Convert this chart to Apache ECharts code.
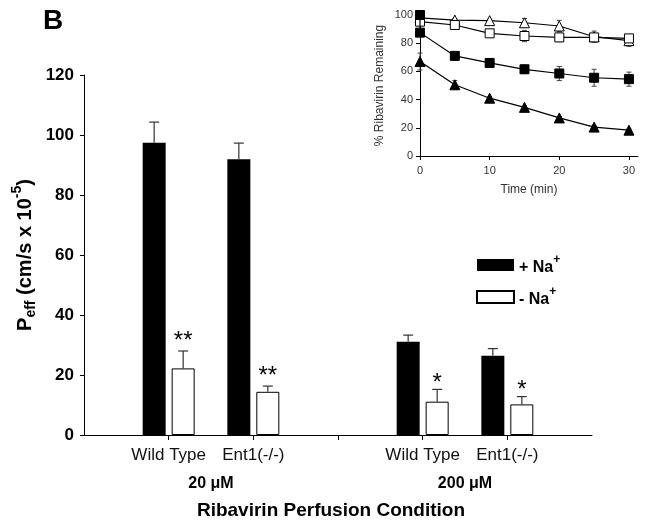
<!DOCTYPE html>
<html><head><meta charset="utf-8">
<script src="https://cdn.jsdelivr.net/npm/echarts@6/dist/echarts.min.js"></script>
<style>html,body{margin:0;padding:0;background:#fff}#c{width:649px;height:522px}</style>
</head><body><div id="c"></div>
<script>
// ---- main bar chart data ----
const categories = ['', 'Wild Type', 'Ent1(-/-)', '', 'Wild Type', 'Ent1(-/-)', ''];
const groupLabels = ['20 \u03bcM', '200 \u03bcM'];
const groupMembers = [[1, 2], [4, 5]];
const plusNa = [null, 97.4, 91.9, null, 31.1, 26.4, null];
const plusNaErr = [null, 6.9, 5.4, null, 2.2, 2.4, null];
const minusNa = [null, 22.2, 14.4, null, 11.1, 10.2, null];
const minusNaErr = [null, 5.8, 1.9, null, 4.1, 2.6, null];
const minusNaSig = ['', '**', '**', '', '*', '*', ''];
const yTicks = [0, 20, 40, 60, 80, 100, 120];

// ---- inset data ----
const openTriTime = [0, 5, 10, 15, 20, 25, 30];
const openTri = [98, 96.4, 96, 94.5, 92.2, 84.6, 81.8];
const openTriErr = [0, 1, 1, 3, 4, 4, 4];
const openSqTime = [0, 5, 10, 15, 20, 25, 30];
const openSq = [95.3, 92.9, 87, 85.1, 84.1, 84.1, 83.4];
const openSqErr = [0, 1, 1, 4, 3, 1, 2];
const filledSqTime = [0, 0, 5, 10, 15, 20, 25, 30];
const filledSq = [100, 87.5, 71, 66, 61.5, 58.5, 55.5, 54.5];
const filledSqErr = [0, 0, 1, 1, 3, 5, 6, 5];
const filledTriTime = [0, 5, 10, 15, 20, 25, 30];
const filledTri = [67, 50.5, 41, 34.5, 27, 20.5, 18.3];
const filledTriErr = [6, 3, 1, 1, 1, 1, 1];
const insetXTicks = [0, 10, 20, 30];

const FONT = 'Liberation Sans, Arial, sans-serif';
const chart = echarts.init(document.getElementById('c'), null, {renderer: 'canvas'});

function rows(vals, errs, sigs) {
  const out = [];
  vals.forEach((v, i) => { if (v != null) out.push([i, v, errs[i], sigs ? sigs[i] : '']); });
  return out;
}
function pairs(ts, vs, es) { return ts.map((t, i) => [t, vs[i], es ? es[i] : 0]); }

const BAR_W = 23, BAR_OFF = 14.5;
function barErr(offset) {
  return function (params, api) {
    const base = api.coord([api.value(0), api.value(1)]);
    const top = api.coord([api.value(0), api.value(1) + api.value(2)]);
    const x = base[0] + offset;
    const children = [
      {type: 'line', shape: {x1: x, y1: base[1], x2: x, y2: top[1]}, style: {stroke: '#333', lineWidth: 1.2}},
      {type: 'line', shape: {x1: x - 5, y1: top[1], x2: x + 5, y2: top[1]}, style: {stroke: '#333', lineWidth: 1.2}}
    ];
    const sig = api.value(3);
    if (sig) children.push({type: 'text', style: {text: sig, x: x, y: top[1] - (sig.length > 1 ? 10 : 6),
      align: 'center', verticalAlign: 'middle', font: '24px ' + FONT, fill: '#000'}});
    return {type: 'group', children};
  };
}
function insetErr(params, api) {
  const e = api.value(2);
  if (!e) return null;
  const hi = api.coord([api.value(0), api.value(1) + e]);
  const lo = api.coord([api.value(0), api.value(1) - e]);
  return {type: 'group', children: [
    {type: 'line', shape: {x1: hi[0], y1: hi[1], x2: lo[0], y2: lo[1]}, style: {stroke: '#444', lineWidth: 1}},
    {type: 'line', shape: {x1: hi[0] - 2.5, y1: hi[1], x2: hi[0] + 2.5, y2: hi[1]}, style: {stroke: '#444', lineWidth: 1}},
    {type: 'line', shape: {x1: lo[0] - 2.5, y1: lo[1], x2: lo[0] + 2.5, y2: lo[1]}, style: {stroke: '#444', lineWidth: 1}}
  ]};
}

const option = {
  animation: false,
  backgroundColor: '#fff',
  textStyle: {fontFamily: FONT},
  title: {text: 'B', left: 38, top: 2, textStyle: {fontSize: 28, fontWeight: 'bold', color: '#000', fontFamily: FONT}},
  legend: {
    orient: 'vertical', left: 471, top: 249, itemWidth: 37, itemHeight: 12, itemGap: 10,
    icon: 'rect', data: ['+Na', '-Na'],
    formatter: n => n === '+Na' ? '{t|+ Na}{s|+}' : '{t|- Na}{s|+}',
    textStyle: {rich: {
      t: {fontSize: 16, fontWeight: 'bold', color: '#000', fontFamily: FONT, lineHeight: 22, verticalAlign: 'bottom'},
      s: {fontSize: 12, fontWeight: 'bold', color: '#000', fontFamily: FONT, lineHeight: 12, verticalAlign: 'top'}
    }}
  },
  grid: [
    {left: 84, right: 57, top: 75, bottom: 87, outerBoundsMode: 'none'},
    {left: 420, top: 15, width: 218, height: 141, outerBoundsMode: 'none'}
  ],
  xAxis: [
    {
      gridIndex: 0, type: 'category', data: categories, boundaryGap: false,
      axisLine: {lineStyle: {color: '#000', width: 1}},
      axisTick: {interval: (i) => i >= 1 && i <= 5, length: 5, lineStyle: {color: '#000'}},
      axisLabel: {interval: 0, fontSize: 17, color: '#111', margin: 12, fontFamily: FONT},
      splitLine: {show: false},
      name: 'Ribavirin Perfusion Condition', nameLocation: 'middle', nameGap: 66,
      nameTextStyle: {fontSize: 19, fontWeight: 'bold', color: '#000', fontFamily: FONT, padding: [0, 14, 0, 0]}
    },
    {
      gridIndex: 1, type: 'value', min: 0, max: 31.3, interval: 10,
      axisLine: {lineStyle: {color: '#000', width: 1}},
      axisTick: {customValues: insetXTicks, length: 4, lineStyle: {color: '#000'}},
      axisLabel: {customValues: insetXTicks, fontSize: 11, color: '#333', margin: 9, fontFamily: FONT},
      splitLine: {show: false},
      name: 'Time (min)', nameLocation: 'middle', nameGap: 28,
      nameTextStyle: {fontSize: 12, color: '#333', fontFamily: FONT}
    }
  ],
  yAxis: [
    {
      gridIndex: 0, type: 'value', min: 0, max: 120, interval: 20,
      axisLine: {show: true, lineStyle: {color: '#000', width: 1}},
      axisTick: {show: true, length: 4, lineStyle: {color: '#000'}},
      axisLabel: {fontSize: 17, fontWeight: 'bold', color: '#000', margin: 10, fontFamily: FONT,
        formatter: v => yTicks.includes(v) ? String(v) : ''},
      splitLine: {show: false},
      name: '{m|P}{b|eff}{m| (cm/s x 10}{p|-5}{m|)}', nameLocation: 'middle', nameGap: 44, nameMoveOverlap: false,
      nameTextStyle: {rich: {
        m: {fontSize: 20, fontWeight: 'bold', color: '#000', fontFamily: FONT, lineHeight: 30, verticalAlign: 'middle'},
        b: {fontSize: 14, fontWeight: 'bold', color: '#000', fontFamily: FONT, lineHeight: 14, verticalAlign: 'bottom', padding: [0, 0, 2, 0]},
        p: {fontSize: 14, fontWeight: 'bold', color: '#000', fontFamily: FONT, lineHeight: 14, verticalAlign: 'top'}
      }}
    },
    {
      gridIndex: 1, type: 'value', min: 0, max: 100, interval: 20,
      axisLine: {show: true, lineStyle: {color: '#000', width: 1}},
      axisTick: {show: true, length: 4, lineStyle: {color: '#000'}},
      axisLabel: {fontSize: 11, color: '#333', margin: 7, fontFamily: FONT},
      splitLine: {show: false},
      name: '% Ribavirin Remaining', nameLocation: 'middle', nameGap: 34,
      nameTextStyle: {fontSize: 12, color: '#333', fontFamily: FONT}
    }
  ],
  series: [
    {name: '+Na', type: 'bar', xAxisIndex: 0, yAxisIndex: 0, data: plusNa, barWidth: BAR_W, barGap: '26%',
      itemStyle: {color: '#000'}},
    {name: '-Na', type: 'bar', xAxisIndex: 0, yAxisIndex: 0, data: minusNa, barWidth: BAR_W, barGap: '26%',
      itemStyle: {color: '#fff', borderColor: '#000', borderWidth: 1}},
    {type: 'custom', xAxisIndex: 0, yAxisIndex: 0, data: rows(plusNa, plusNaErr), renderItem: barErr(-BAR_OFF), z: 3},
    {type: 'custom', xAxisIndex: 0, yAxisIndex: 0, data: rows(minusNa, minusNaErr, minusNaSig), renderItem: barErr(BAR_OFF), z: 3},

    {type: 'custom', xAxisIndex: 1, yAxisIndex: 1, data: pairs(openTriTime, openTri, openTriErr), renderItem: insetErr, z: 1},
    {type: 'custom', xAxisIndex: 1, yAxisIndex: 1, data: pairs(openSqTime, openSq, openSqErr), renderItem: insetErr, z: 1},
    {type: 'custom', xAxisIndex: 1, yAxisIndex: 1, data: pairs(filledSqTime, filledSq, filledSqErr), renderItem: insetErr, z: 1},
    {type: 'custom', xAxisIndex: 1, yAxisIndex: 1, data: pairs(filledTriTime, filledTri, filledTriErr), renderItem: insetErr, z: 1},

    {type: 'line', xAxisIndex: 1, yAxisIndex: 1, data: pairs(openTriTime, openTri), symbol: 'triangle', symbolSize: 10, showAllSymbol: true,
      lineStyle: {color: '#000', width: 1.2}, itemStyle: {color: '#fff', borderColor: '#000', borderWidth: 1}, z: 2},
    {type: 'line', xAxisIndex: 1, yAxisIndex: 1, data: pairs(openSqTime, openSq), symbol: 'rect', symbolSize: 9, showAllSymbol: true,
      lineStyle: {color: '#000', width: 1.2}, itemStyle: {color: '#fff', borderColor: '#000', borderWidth: 1}, z: 2},
    {type: 'line', xAxisIndex: 1, yAxisIndex: 1, data: pairs(filledSqTime, filledSq), symbol: 'rect', symbolSize: 9, showAllSymbol: true,
      lineStyle: {color: '#000', width: 1.2}, itemStyle: {color: '#000', borderColor: '#000', borderWidth: 1}, z: 3},
    {type: 'line', xAxisIndex: 1, yAxisIndex: 1, data: pairs(filledTriTime, filledTri), symbol: 'triangle', symbolSize: 10, showAllSymbol: true,
      lineStyle: {color: '#000', width: 1.2}, itemStyle: {color: '#000', borderColor: '#000', borderWidth: 1}, z: 3}
  ]
};
chart.setOption(option);

// group labels centred under their two categories
const labelY = 484;
chart.setOption({graphic: groupLabels.map((g, k) => {
  const xs = groupMembers[k].map(i => chart.convertToPixel({xAxisIndex: 0}, i));
  return {type: 'text', x: (xs[0] + xs[1]) / 2, y: labelY,
    style: {text: g, align: 'center', verticalAlign: 'middle', font: 'bold 16px ' + FONT, fill: '#000'}};
})});
</script></body></html>
